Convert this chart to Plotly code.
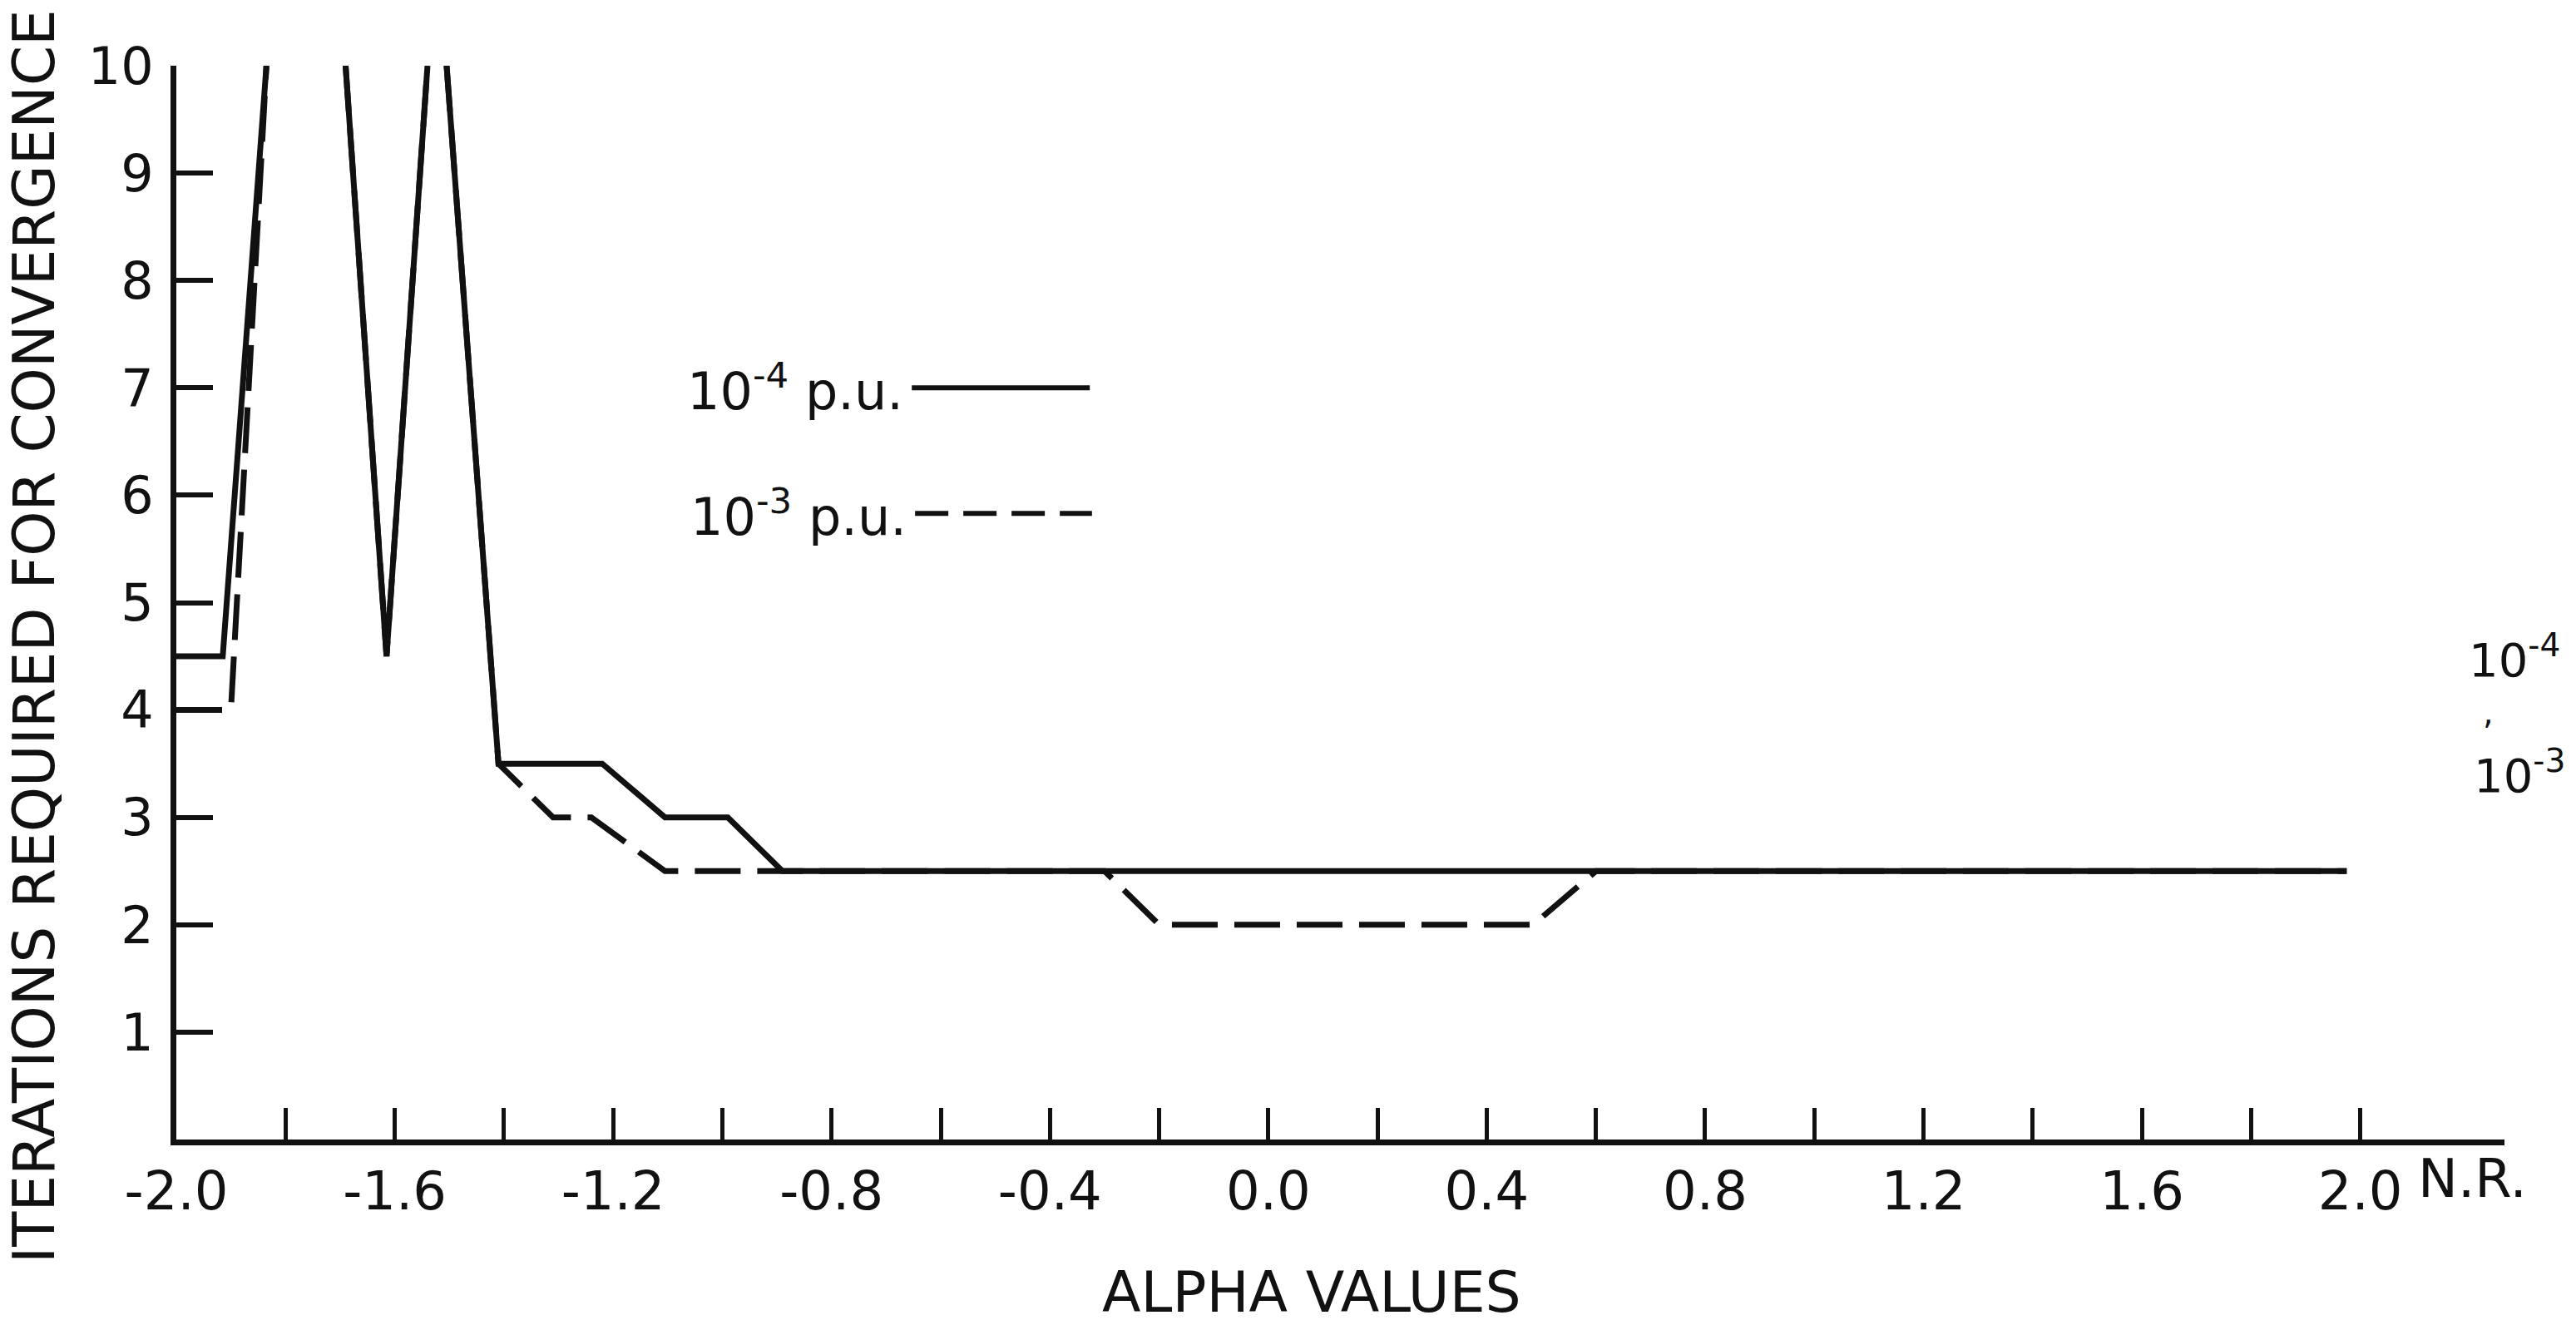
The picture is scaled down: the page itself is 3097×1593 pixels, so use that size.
import plotly.graph_objects as go

# ---- data ----
alpha_1e4 = [-2.0, -1.915, -1.835, None, -1.69, -1.615, -1.54, None, -1.505, -1.41, -1.22, -1.105, -0.99, -0.89, 1.975]
iters_1e4 = [4.5, 4.5, 10.0, None, 10.0, 4.5, 10.0, None, 10.0, 3.5, 3.5, 3.0, 3.0, 2.5, 2.5]

alpha_1e3 = [-2.0, -1.9, -1.835, None, -1.69, -1.615, -1.54, None, -1.505, -1.41, -1.31, -1.24, -1.105,
             -0.3, -0.2, 0.485, 0.6, 1.975]
iters_1e3 = [4.0, 4.0, 10.0, None, 10.0, 4.5, 10.0, None, 10.0, 3.5, 3.0, 3.0, 2.5,
             2.5, 2.0, 2.0, 2.5, 2.5]

x_label_vals = [-2.0, -1.6, -1.2, -0.8, -0.4, 0.0, 0.4, 0.8, 1.2, 1.6, 2.0]
x_label_text = ["-2.0", "-1.6", "-1.2", "-0.8", "-0.4", "0.0", "0.4", "0.8", "1.2", "1.6", "2.0"]
x_minor_vals = [-1.8, -1.4, -1.0, -0.6, -0.2, 0.2, 0.6, 1.0, 1.4, 1.8, 2.264]
y_tick_vals = [1, 2, 3, 4, 5, 6, 7, 8, 9, 10]
y_tick_text = ["1", "2", "3", "4", "5", "6", "7", "8", "9", "10"]

FONT = "DejaVu Sans"
BLACK = "#111111"

fig = go.Figure()
fig.add_trace(go.Scatter(x=alpha_1e3, y=iters_1e3, mode="lines", name="10^-3 p.u.",
                         line=dict(color=BLACK, width=7, dash="55px,20px"),
                         cliponaxis=False, connectgaps=False, showlegend=False))
fig.add_trace(go.Scatter(x=alpha_1e4, y=iters_1e4, mode="lines", name="10^-4 p.u.",
                         line=dict(color=BLACK, width=7),
                         cliponaxis=False, connectgaps=False, showlegend=False))

# legend drawn as in the original: text, then a line sample to its right
fig.add_shape(type="line", xref="x", yref="y", x0=-0.653, x1=-0.327, y0=7.0, y1=7.0,
              line=dict(color=BLACK, width=6))
fig.add_shape(type="line", xref="x", yref="y", x0=-0.647, x1=-0.323, y0=5.83, y1=5.83,
              line=dict(color=BLACK, width=6, dash="40px,18px"))
fig.add_annotation(x=-0.665, y=7.0, xref="x", yref="y", xanchor="right", yanchor="middle",
                   text="10<sup>-4</sup> p.u.", showarrow=False,
                   font=dict(family=FONT, size=62, color=BLACK))
fig.add_annotation(x=-0.66, y=5.83, xref="x", yref="y", xanchor="right", yanchor="middle",
                   text="10<sup>-3</sup> p.u.", showarrow=False,
                   font=dict(family=FONT, size=62, color=BLACK))

# right-hand note
fig.add_annotation(x=2.195, y=4.5, xref="x", yref="y", xanchor="left", yanchor="middle",
                   text="10<sup>-4</sup>", showarrow=False,
                   font=dict(family=FONT, size=56, color=BLACK))
fig.add_annotation(x=2.235, y=3.98, xref="x", yref="y", xanchor="center", yanchor="middle",
                   text=",", showarrow=False,
                   font=dict(family=FONT, size=40, color=BLACK))
fig.add_annotation(x=2.205, y=3.42, xref="x", yref="y", xanchor="left", yanchor="middle",
                   text="10<sup>-3</sup>", showarrow=False,
                   font=dict(family=FONT, size=56, color=BLACK))

# N.R. label beside 2.0
fig.add_annotation(x=2.206, y=0, xref="x", yref="y", xanchor="center", yanchor="top",
                   yshift=-8, text="N.R.", showarrow=False,
                   font=dict(family=FONT, size=64, color=BLACK))

# axis titles placed like the original
fig.add_annotation(x=-0.0611, y=0.4686, xref="paper", yref="paper", xanchor="center", yanchor="middle",
                   textangle=-90, text="ITERATIONS REQUIRED FOR CONVERGENCE", showarrow=False,
                   font=dict(family=FONT, size=69, color=BLACK))
fig.add_annotation(x=0.4875, y=-0.1425, xref="paper", yref="paper", xanchor="center", yanchor="middle",
                   text="ALPHA VALUES", showarrow=False,
                   font=dict(family=FONT, size=68, color=BLACK))

fig.update_layout(
    width=3097, height=1593,
    margin=dict(l=212, r=86, t=79, b=223, autoexpand=False),
    paper_bgcolor="white", plot_bgcolor="white",
    font=dict(family=FONT, color=BLACK),
    showlegend=False,
)
fig.update_xaxes(
    range=[-2.0, 2.264], showline=True, linecolor=BLACK, linewidth=7,
    ticks="inside", ticklen=38, tickwidth=5, tickcolor=BLACK,
    tickmode="array", tickvals=x_label_vals, ticktext=x_label_text,
    minor=dict(tickmode="array", tickvals=x_minor_vals, ticks="inside",
               ticklen=38, tickwidth=5, tickcolor=BLACK, showgrid=False),
    tickfont=dict(family=FONT, size=64, color=BLACK), ticklabelstandoff=0,
    showgrid=False, zeroline=False, automargin=False,
)
fig.update_yaxes(
    range=[0, 10], showline=True, linecolor=BLACK, linewidth=7,
    ticks="inside", ticklen=44, tickwidth=6, tickcolor=BLACK,
    tickmode="array", tickvals=y_tick_vals, ticktext=y_tick_text,
    tickfont=dict(family=FONT, size=62, color=BLACK), ticklabelstandoff=8,
    showgrid=False, zeroline=False, automargin=False,
)

fig.write_html("out.html")
